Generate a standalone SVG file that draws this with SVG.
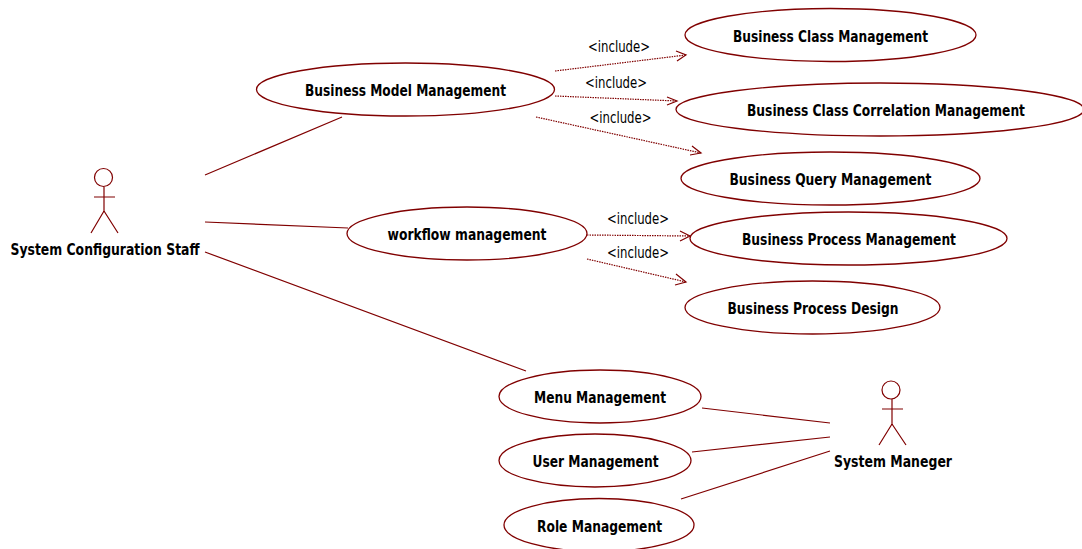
<svg xmlns="http://www.w3.org/2000/svg" width="1082" height="549" viewBox="0 0 1082 549">
<style>
.u{fill:#fff;stroke:#800000;stroke-width:1.3}
.a{fill:none;stroke:#800000;stroke-width:1.2}
.l{fill:none;stroke:#800000;stroke-width:1.2}
.d{fill:none;stroke:#800000;stroke-width:1.2;stroke-dasharray:1.5 1}
.h{fill:none;stroke:#800000;stroke-width:1.2}
text{font-family:"DejaVu Sans","Liberation Sans",sans-serif;fill:#000;text-anchor:middle}
.b{font-size:15px;font-weight:bold}
.i{font-size:15.500px}
</style>
<rect width="1082" height="549" fill="#fff"/>
<g id="connectors">
<path class="l" d="M205 175L342 117M205 222L348 228M205 252L526 371M702 408L830 423M692 452L830 437M681 499L830 451"/>
<path class="d" d="M555 71L686 55M555 96L677 101M536 117L701 153M587 235L690 236M587 259L686 282"/>
<path class="h" d="M676 51L686 55L677 61M667 97L677 101L667 105M692 146L701 153L690 155M680 231L690 236L680 241M676 274L686 282L675 285"/>
<text class="i" x="619" y="52" textLength="62" lengthAdjust="spacingAndGlyphs">&lt;include&gt;</text>
<text class="i" x="616" y="88" textLength="62" lengthAdjust="spacingAndGlyphs">&lt;include&gt;</text>
<text class="i" x="620.500" y="123" textLength="62" lengthAdjust="spacingAndGlyphs">&lt;include&gt;</text>
<text class="i" x="638" y="224" textLength="62" lengthAdjust="spacingAndGlyphs">&lt;include&gt;</text>
<text class="i" x="638" y="258" textLength="62" lengthAdjust="spacingAndGlyphs">&lt;include&gt;</text>
</g>
<g id="actor-staff">
<circle class="a" cx="103.500" cy="177.500" r="9"/>
<path class="a" d="M104 187V211M94 197H115M104 211L91 233M104 211L118 233"/>
<text class="b" x="105" y="254.500" textLength="189" lengthAdjust="spacingAndGlyphs">System Configuration Staff</text>
</g>
<g id="actor-manager">
<circle class="a" cx="891" cy="390" r="9"/>
<path class="a" d="M892 399V424M882 409H903M892 424L879 445M892 424L906 445"/>
<text class="b" x="893" y="466.500" textLength="118" lengthAdjust="spacingAndGlyphs">System Maneger</text>
</g>
<g id="uc-model"><ellipse class="u" cx="405.500" cy="89.500" rx="149" ry="26.500"/><text class="b" x="405.500" y="95.500" textLength="201" lengthAdjust="spacingAndGlyphs">Business Model Management</text></g>
<g id="uc-class"><ellipse class="u" cx="830.500" cy="35" rx="145.500" ry="26.500"/><text class="b" x="830.500" y="41.500" textLength="195" lengthAdjust="spacingAndGlyphs">Business Class Management</text></g>
<g id="uc-correlation"><ellipse class="u" cx="880" cy="109.500" rx="204" ry="26.500"/><text class="b" x="886" y="115.500" textLength="278" lengthAdjust="spacingAndGlyphs">Business Class Correlation Management</text></g>
<g id="uc-query"><ellipse class="u" cx="830.500" cy="178.500" rx="149.500" ry="26.500"/><text class="b" x="830.500" y="184.500" textLength="202" lengthAdjust="spacingAndGlyphs">Business Query Management</text></g>
<g id="uc-workflow"><ellipse class="u" cx="467" cy="233.500" rx="120" ry="26.500"/><text class="b" x="467" y="240" textLength="159" lengthAdjust="spacingAndGlyphs">workflow management</text></g>
<g id="uc-process"><ellipse class="u" cx="848.500" cy="238.500" rx="158.500" ry="26.500"/><text class="b" x="849" y="244.500" textLength="214" lengthAdjust="spacingAndGlyphs">Business Process Management</text></g>
<g id="uc-design"><ellipse class="u" cx="812.500" cy="307.500" rx="127.500" ry="26.500"/><text class="b" x="813" y="313.500" textLength="171" lengthAdjust="spacingAndGlyphs">Business Process Design</text></g>
<g id="uc-menu"><ellipse class="u" cx="600" cy="396.500" rx="101" ry="26.500"/><text class="b" x="600" y="402.500" textLength="132" lengthAdjust="spacingAndGlyphs">Menu Management</text></g>
<g id="uc-user"><ellipse class="u" cx="595" cy="460.500" rx="96" ry="26.500"/><text class="b" x="595.500" y="466.500" textLength="126" lengthAdjust="spacingAndGlyphs">User Management</text></g>
<g id="uc-role"><ellipse class="u" cx="599" cy="525" rx="95" ry="26.500"/><text class="b" x="599.500" y="531.500" textLength="125" lengthAdjust="spacingAndGlyphs">Role Management</text></g>
</svg>
